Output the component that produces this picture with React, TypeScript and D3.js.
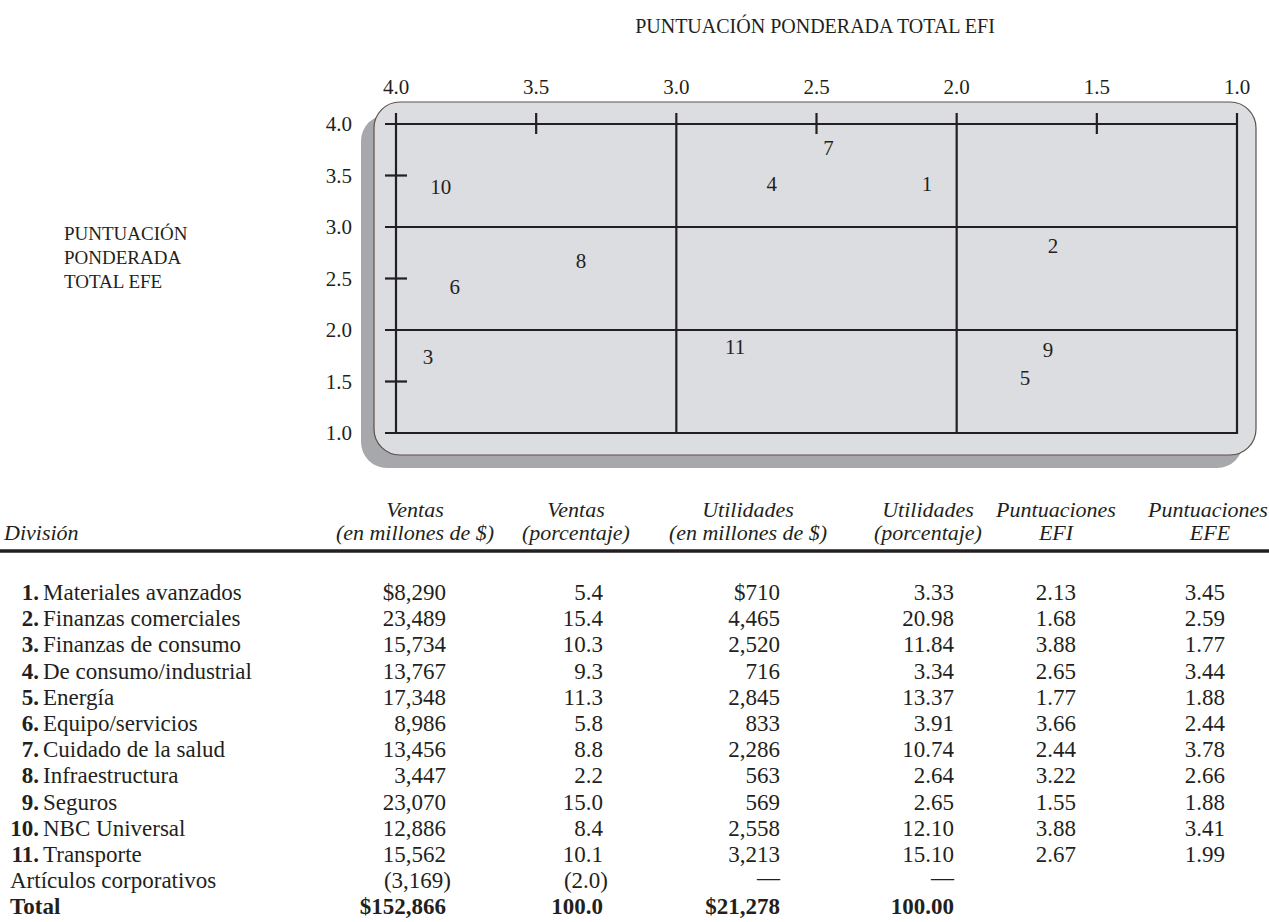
import React from "react";
import * as d3 from "d3";

// ---- Data ----
const xTicks = [4.0, 3.5, 3.0, 2.5, 2.0, 1.5, 1.0];
const yTicks = [4.0, 3.5, 3.0, 2.5, 2.0, 1.5, 1.0];
const gridValues = [4.0, 3.0, 2.0, 1.0];
const minorValues = [3.5, 2.5, 1.5];

const divisionIds = ["1", "2", "3", "4", "5", "6", "7", "8", "9", "10", "11"];
const divisionNames = [
  "Materiales avanzados",
  "Finanzas comerciales",
  "Finanzas de consumo",
  "De consumo/industrial",
  "Energía",
  "Equipo/servicios",
  "Cuidado de la salud",
  "Infraestructura",
  "Seguros",
  "NBC Universal",
  "Transporte",
];
const salesM = [8290, 23489, 15734, 13767, 17348, 8986, 13456, 3447, 23070, 12886, 15562];
const salesPct = [5.4, 15.4, 10.3, 9.3, 11.3, 5.8, 8.8, 2.2, 15.0, 8.4, 10.1];
const profitM = [710, 4465, 2520, 716, 2845, 833, 2286, 563, 569, 2558, 3213];
const profitPct = [3.33, 20.98, 11.84, 3.34, 13.37, 3.91, 10.74, 2.64, 2.65, 12.1, 15.1];
const efiScores = [2.13, 1.68, 3.88, 2.65, 1.77, 3.66, 2.44, 3.22, 1.55, 3.88, 2.67];
const efeScores = [3.45, 2.59, 1.77, 3.44, 1.88, 2.44, 3.78, 2.66, 1.88, 3.41, 1.99];

// positions of the numbers as drawn in the matrix
const plotEFI = [2.106, 1.656, 3.886, 2.66, 1.756, 3.79, 2.457, 3.34, 1.674, 3.84, 2.79];
const plotEFE = [3.42, 2.82, 1.74, 3.42, 1.53, 2.42, 3.77, 2.67, 1.806, 3.39, 1.835];

const corporateLabel = "Artículos corporativos";
const corporateSales = -3169;
const corporateSalesPct = -2.0;
const totalSales = 152866;
const totalSalesPct = 100.0;
const totalProfit = 21278;
const totalProfitPct = 100.0;

const headers1 = ["Ventas", "Ventas", "Utilidades", "Utilidades", "Puntuaciones", "Puntuaciones"];
const headers2 = ["(en millones de $)", "(porcentaje)", "(en millones de $)", "(porcentaje)", "EFI", "EFE"];
const yTitleLines = ["PUNTUACIÓN", "PONDERADA", "TOTAL EFE"];
const xTitle = "PUNTUACIÓN PONDERADA TOTAL EFI";

const FONT = "'Liberation Serif', 'Times New Roman', serif";
const INK = "#231f20";

export default function App() {
  const W = 1269;
  const H = 922;
  const x = d3.scaleLinear().domain([4, 1]).range([396, 1237]);
  const y = d3.scaleLinear().domain([4, 1]).range([124, 433]);

  const rectX = 374, rectY = 102, rectW = 882, rectH = 353;
  const fmtInt = d3.format(",");
  const f1 = d3.format(".1f");
  const f2 = d3.format(".2f");

  // table layout
  const colHeaderCenter = [415, 576, 748, 928, 1056, 1208];
  const colHeader2Center = [415, 576, 748, 928, 1056, 1210];
  const colRight = [446, 603, 780, 954, 1076, 1225];
  const rowBase0 = 600;
  const rowH = 26.2;
  const fs = 23;
  const hfs = 22;
  const pfs = 21;

  const rowValues = divisionNames.map((_, i) => [
    (i === 0 ? "$" : "") + fmtInt(salesM[i]),
    f1(salesPct[i]),
    (i === 0 ? "$" : "") + fmtInt(profitM[i]),
    f2(profitPct[i]),
    f2(efiScores[i]),
    f2(efeScores[i]),
  ]);
  const rowY = (i: number) => rowBase0 + i * rowH;

  return (
    <svg
      width={W}
      height={H}
      style={{ position: "absolute", left: 0, top: 0, background: "#fff" }}
      fontFamily={FONT}
    >
      {/* Title */}
      <text x={815} y={33} textAnchor="middle" fontSize={20} fill={INK}>
        {xTitle}
      </text>

      {/* Y axis title */}
      {yTitleLines.map((t, i) => (
        <text key={t} x={64} y={240 + i * 24} fontSize={19} fill={INK}>
          {t}
        </text>
      ))}

      {/* shadow + panel */}
      <rect x={rectX - 13} y={rectY + 13} width={rectW} height={rectH} rx={26} fill="#a7a8ab" />
      <rect x={rectX} y={rectY} width={rectW} height={rectH} rx={26} fill="#dcdde0" stroke="#5e5048" strokeWidth={1.2} />

      {/* grid lines */}
      {gridValues.map((v) => (
        <line key={"h" + v} x1={x(4) - 11} x2={x(1)} y1={y(v)} y2={y(v)} stroke={INK} strokeWidth={2.2} />
      ))}
      {gridValues.map((v) => (
        <line key={"v" + v} x1={x(v)} x2={x(v)} y1={y(4) - 11} y2={y(1) + 1} stroke={INK} strokeWidth={2.2} />
      ))}
      {minorValues.map((v) => (
        <line key={"tx" + v} x1={x(v)} x2={x(v)} y1={y(4) - 11} y2={y(4) + 10} stroke={INK} strokeWidth={2.2} />
      ))}
      {minorValues.map((v) => (
        <line key={"ty" + v} x1={x(4) - 11} x2={x(4) + 11} y1={y(v)} y2={y(v)} stroke={INK} strokeWidth={2.2} />
      ))}

      {/* tick labels */}
      {xTicks.map((v) => (
        <text key={"xl" + v} x={x(v)} y={94} textAnchor="middle" fontSize={pfs} fill={INK}>
          {f1(v)}
        </text>
      ))}
      {yTicks.map((v) => (
        <text key={"yl" + v} x={352} y={y(v) + 7} textAnchor="end" fontSize={pfs} fill={INK}>
          {f1(v)}
        </text>
      ))}

      {/* division numbers in the matrix */}
      {divisionIds.map((id, i) => (
        <text
          key={"p" + id}
          x={x(plotEFI[i])}
          y={y(plotEFE[i]) + 7}
          textAnchor="middle"
          fontSize={pfs}
          fill={INK}
        >
          {id}
        </text>
      ))}

      {/* table header */}
      {headers1.map((h, i) => (
        <text key={"h1" + i} x={colHeaderCenter[i]} y={517} textAnchor="middle" fontSize={hfs} fontStyle="italic" fill={INK}>
          {h}
        </text>
      ))}
      {headers2.map((h, i) => (
        <text key={"h2" + i} x={colHeader2Center[i]} y={540} textAnchor="middle" fontSize={hfs} fontStyle="italic" fill={INK}>
          {h}
        </text>
      ))}
      <text x={4} y={540} fontSize={hfs} fontStyle="italic" fill={INK}>
        División
      </text>
      <line x1={0} x2={W} y1={551} y2={551} stroke={INK} strokeWidth={3.6} />

      {/* rows */}
      {divisionNames.map((name, i) => (
        <g key={"r" + i}>
          <text x={39} y={rowY(i)} textAnchor="end" fontSize={fs} fontWeight="bold" fill={INK}>
            {divisionIds[i]}.
          </text>
          <text x={43} y={rowY(i)} fontSize={fs} fill={INK}>
            {name}
          </text>
          {rowValues[i].map((v, j) => (
            <text key={j} x={colRight[j]} y={rowY(i)} textAnchor="end" fontSize={fs} fill={INK}>
              {v}
            </text>
          ))}
        </g>
      ))}

      {/* corporate row */}
      <g>
        <text x={10} y={rowY(11)} fontSize={fs} fill={INK}>
          {corporateLabel}
        </text>
        <text x={colRight[0] + 5} y={rowY(11)} textAnchor="end" fontSize={fs} fill={INK}>
          ({fmtInt(Math.abs(corporateSales))})
        </text>
        <text x={colRight[1] + 5} y={rowY(11)} textAnchor="end" fontSize={fs} fill={INK}>
          ({f1(Math.abs(corporateSalesPct))})
        </text>
        <text x={colRight[2]} y={rowY(11) - 3} textAnchor="end" fontSize={fs} fill={INK}>
          —
        </text>
        <text x={colRight[3]} y={rowY(11) - 3} textAnchor="end" fontSize={fs} fill={INK}>
          —
        </text>
      </g>

      {/* total row */}
      <g fontWeight="bold">
        <text x={10} y={rowY(12)} fontSize={fs} fill={INK}>
          Total
        </text>
        <text x={colRight[0]} y={rowY(12)} textAnchor="end" fontSize={fs} fill={INK}>
          ${fmtInt(totalSales)}
        </text>
        <text x={colRight[1]} y={rowY(12)} textAnchor="end" fontSize={fs} fill={INK}>
          {f1(totalSalesPct)}
        </text>
        <text x={colRight[2]} y={rowY(12)} textAnchor="end" fontSize={fs} fill={INK}>
          ${fmtInt(totalProfit)}
        </text>
        <text x={colRight[3]} y={rowY(12)} textAnchor="end" fontSize={fs} fill={INK}>
          {f2(totalProfitPct)}
        </text>
      </g>
    </svg>
  );
}
